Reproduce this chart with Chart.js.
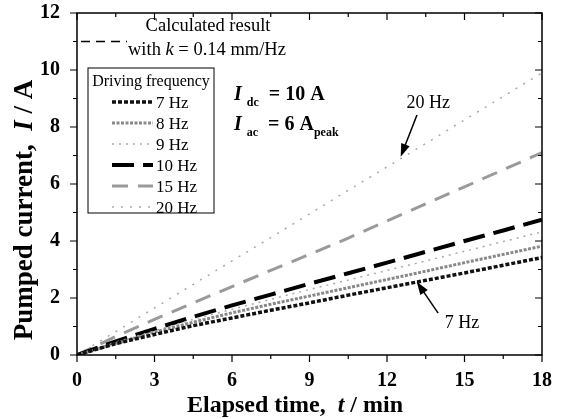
<!DOCTYPE html>
<html>
<head>
<meta charset="utf-8">
<script src="https://cdn.jsdelivr.net/npm/chart.js@4"></script>
<style>
  html, body { margin: 0; padding: 0; background: #fff; }
  #wrap { width: 563px; height: 419px; }
</style>
</head>
<body>
<div id="wrap"><canvas id="chart" width="563" height="419"></canvas></div>
<script>
// elapsed time (min) and pumped current (A)
const times = [0, 1.5, 3, 4.5, 6, 7.5, 9, 10.5, 12, 13.5, 15, 16.5, 18];
const freqLabels = ['7 Hz', '8 Hz', '9 Hz', '10 Hz', '15 Hz', '20 Hz'];
const current7Hz  = [0, 0.40, 0.72, 1.03, 1.30, 1.57, 1.83, 2.10, 2.36, 2.62, 2.88, 3.15, 3.42];
const current8Hz  = [0, 0.40, 0.80, 1.15, 1.48, 1.78, 2.07, 2.36, 2.65, 2.94, 3.24, 3.53, 3.82];
const current9Hz  = [0, 0.45, 0.85, 1.25, 1.60, 1.95, 2.30, 2.63, 2.97, 3.30, 3.64, 3.98, 4.32];
const current10Hz = [0, 0.48, 0.92, 1.34, 1.74, 2.12, 2.50, 2.87, 3.24, 3.62, 4.00, 4.37, 4.75];
const current15Hz = [0, 0.65, 1.25, 1.83, 2.40, 2.97, 3.53, 4.10, 4.70, 5.30, 5.90, 6.50, 7.10];
const current20Hz = [0, 0.82, 1.65, 2.48, 3.30, 4.12, 4.95, 5.78, 6.60, 7.42, 8.25, 9.07, 9.90];
const xTicks = [0, 3, 6, 9, 12, 15, 18];
const yTicks = [0, 2, 4, 6, 8, 10, 12];

const serif = '"Liberation Serif", "Times New Roman", serif';
const styles = [
  { color: '#111', width: 3.5, dash: [4, 2] },
  { color: '#888', width: 3, dash: [3, 1.5] },
  { color: '#aaa', width: 1.5, dash: [2, 5] },
  { color: '#000', width: 4, dash: [22, 9] },
  { color: '#9a9a9a', width: 3, dash: [16, 10] },
  { color: '#aaa', width: 1.5, dash: [2, 7] }
];
const series = [current7Hz, current8Hz, current9Hz, current10Hz, current15Hz, current20Hz];

const datasets = series.map((vals, i) => ({
  label: freqLabels[i],
  data: times.map((t, j) => ({ x: t, y: vals[j] })),
  borderColor: styles[i].color,
  borderWidth: styles[i].width,
  borderDash: styles[i].dash,
  pointRadius: 0,
  fill: false,
  tension: 0
}));

// mixed-style text: parts = [[text, font, yOffset], ...]
function drawParts(ctx, parts, x, y, align) {
  let total = 0;
  parts.forEach(p => { ctx.font = p[1]; total += ctx.measureText(p[0]).width; });
  let cx = align === 'center' ? x - total / 2 : x;
  ctx.textAlign = 'left';
  parts.forEach(p => {
    ctx.font = p[1];
    ctx.fillText(p[0], cx, y + (p[2] || 0));
    cx += ctx.measureText(p[0]).width;
  });
}

function arrow(ctx, x1, y1, x2, y2) {
  const ang = Math.atan2(y2 - y1, x2 - x1);
  const len = 13, w = 4.5;
  ctx.beginPath();
  ctx.moveTo(x1, y1);
  ctx.lineTo(x2 - Math.cos(ang) * len * 0.8, y2 - Math.sin(ang) * len * 0.8);
  ctx.lineWidth = 1.5;
  ctx.stroke();
  ctx.beginPath();
  ctx.moveTo(x2, y2);
  ctx.lineTo(x2 - Math.cos(ang) * len - Math.sin(ang) * w, y2 - Math.sin(ang) * len + Math.cos(ang) * w);
  ctx.lineTo(x2 - Math.cos(ang) * len + Math.sin(ang) * w, y2 - Math.sin(ang) * len - Math.cos(ang) * w);
  ctx.closePath();
  ctx.fill();
}

const decorations = {
  id: 'decorations',
  afterDraw(chart) {
    const ctx = chart.ctx;
    const a = chart.chartArea;
    const xs = chart.scales.x, ys = chart.scales.y;
    ctx.save();
    ctx.strokeStyle = '#000';
    ctx.fillStyle = '#000';
    ctx.setLineDash([]);

    // frame
    ctx.lineWidth = 1.5;
    ctx.strokeRect(a.left, a.top, a.right - a.left, a.bottom - a.top);

    // ticks: outward bottom/left, inward top/right
    ctx.lineWidth = 1.2;
    ctx.beginPath();
    for (let t = 0; t <= 18; t += 1.5) {
      const px = xs.getPixelForValue(t);
      const L = t % 3 === 0 ? 7 : 4;
      ctx.moveTo(px, a.bottom); ctx.lineTo(px, a.bottom + L);
      ctx.moveTo(px, a.top); ctx.lineTo(px, a.top + L);
    }
    for (let v = 0; v <= 12; v += 1) {
      const py = ys.getPixelForValue(v);
      const L = v % 2 === 0 ? 7 : 4;
      ctx.moveTo(a.left, py); ctx.lineTo(a.left - L, py);
      ctx.moveTo(a.right, py); ctx.lineTo(a.right - L, py);
    }
    ctx.stroke();

    // axis titles
    ctx.textBaseline = 'middle';
    const bx = 'bold 24px ' + serif, bxi = 'italic bold 24px ' + serif;
    drawParts(ctx, [['Elapsed time,  ', bx], ['t', bxi], [' / min', bx]], a.left + 218, 406, 'center');
    const by = 'bold 27px ' + serif, byi = 'italic bold 27px ' + serif;
    ctx.save();
    ctx.translate(25, 210);
    ctx.rotate(-Math.PI / 2);
    drawParts(ctx, [['Pumped current,  ', by], ['I', byi], [' / A', by]], 0, 0, 'center');
    ctx.restore();

    // calculated result legend
    ctx.textBaseline = 'alphabetic';
    ctx.lineWidth = 1.5;
    ctx.setLineDash([9, 6]);
    ctx.beginPath();
    const yk = ys.getPixelForValue(11);
    ctx.moveTo(a.left + 4, yk); ctx.lineTo(a.left + 50, yk);
    ctx.stroke();
    ctx.setLineDash([]);
    const big = '18.5px ' + serif, bigIt = 'italic 18.5px ' + serif;
    drawParts(ctx, [['Calculated result', big]], 208, 31, 'center');
    drawParts(ctx, [['with ', big], ['k', bigIt], [' = 0.14 mm/Hz', big]], 128, 55, 'left');

    // frequency legend box
    const reg = '16px ' + serif;
    ctx.lineWidth = 1;
    ctx.strokeRect(88, 68, 126, 145);
    drawParts(ctx, [['Driving frequency', reg]], 151, 86, 'center');
    chart.data.datasets.forEach((ds, i) => {
      const y = 102 + i * 21;
      ctx.strokeStyle = ds.borderColor;
      ctx.lineWidth = ds.borderWidth;
      ctx.setLineDash(ds.borderDash);
      ctx.beginPath();
      ctx.moveTo(112, y); ctx.lineTo(153, y);
      ctx.stroke();
      ctx.setLineDash([]);
      ctx.fillStyle = '#000';
      drawParts(ctx, [[ds.label, '17px ' + serif]], 156, y + 6, 'left');
    });
    ctx.strokeStyle = '#000';

    // operating conditions
    const b19 = 'bold 20px ' + serif, bi19 = 'italic bold 20px ' + serif, sub = 'bold 12px ' + serif;
    drawParts(ctx, [['I', bi19], [' ', b19], ['dc', sub, 6], ['  = 10 A', b19]], 234, 100, 'left');
    drawParts(ctx, [['I', bi19], [' ', b19], ['ac', sub, 6], ['  = 6 A', b19], ['peak', sub, 6]], 234, 130, 'left');

    // frequency labels with arrows
    const lab = '18px ' + serif;
    ctx.textBaseline = 'middle';
    drawParts(ctx, [['20 Hz', lab]], xs.getPixelForValue(13.6), ys.getPixelForValue(8.84), 'center');
    arrow(ctx, xs.getPixelForValue(13.16), ys.getPixelForValue(8.42), xs.getPixelForValue(12.53), ys.getPixelForValue(6.96));
    drawParts(ctx, [['7 Hz', lab]], xs.getPixelForValue(14.9), ys.getPixelForValue(1.12), 'center');
    arrow(ctx, xs.getPixelForValue(13.98), ys.getPixelForValue(1.47), xs.getPixelForValue(13.15), ys.getPixelForValue(2.57));

    ctx.restore();
  }
};

new Chart(document.getElementById('chart'), {
  type: 'line',
  data: { datasets: datasets },
  options: {
    responsive: false,
    animation: false,
    layout: { padding: { left: 0, right: 21, top: 13, bottom: 0 } },
    plugins: { legend: { display: false }, tooltip: { enabled: false } },
    scales: {
      x: {
        type: 'linear', min: 0, max: 18,
        afterBuildTicks: s => { s.ticks = xTicks.map(v => ({ value: v })); },
        afterFit: s => { s.height = 64; s.paddingLeft = 0; s.paddingRight = 0; },
        grid: { display: false },
        border: { display: false },
        ticks: { color: '#000', padding: 6, maxRotation: 0, font: { family: serif, size: 20, weight: 'bold' } }
      },
      y: {
        min: 0, max: 12,
        afterBuildTicks: s => { s.ticks = yTicks.map(v => ({ value: v })); },
        afterFit: s => { s.width = 77; s.paddingTop = 0; s.paddingBottom = 0; },
        grid: { display: false },
        border: { display: false },
        ticks: { color: '#000', padding: 9, font: { family: serif, size: 20, weight: 'bold' } }
      }
    }
  },
  plugins: [decorations]
});
</script>
</body>
</html>
